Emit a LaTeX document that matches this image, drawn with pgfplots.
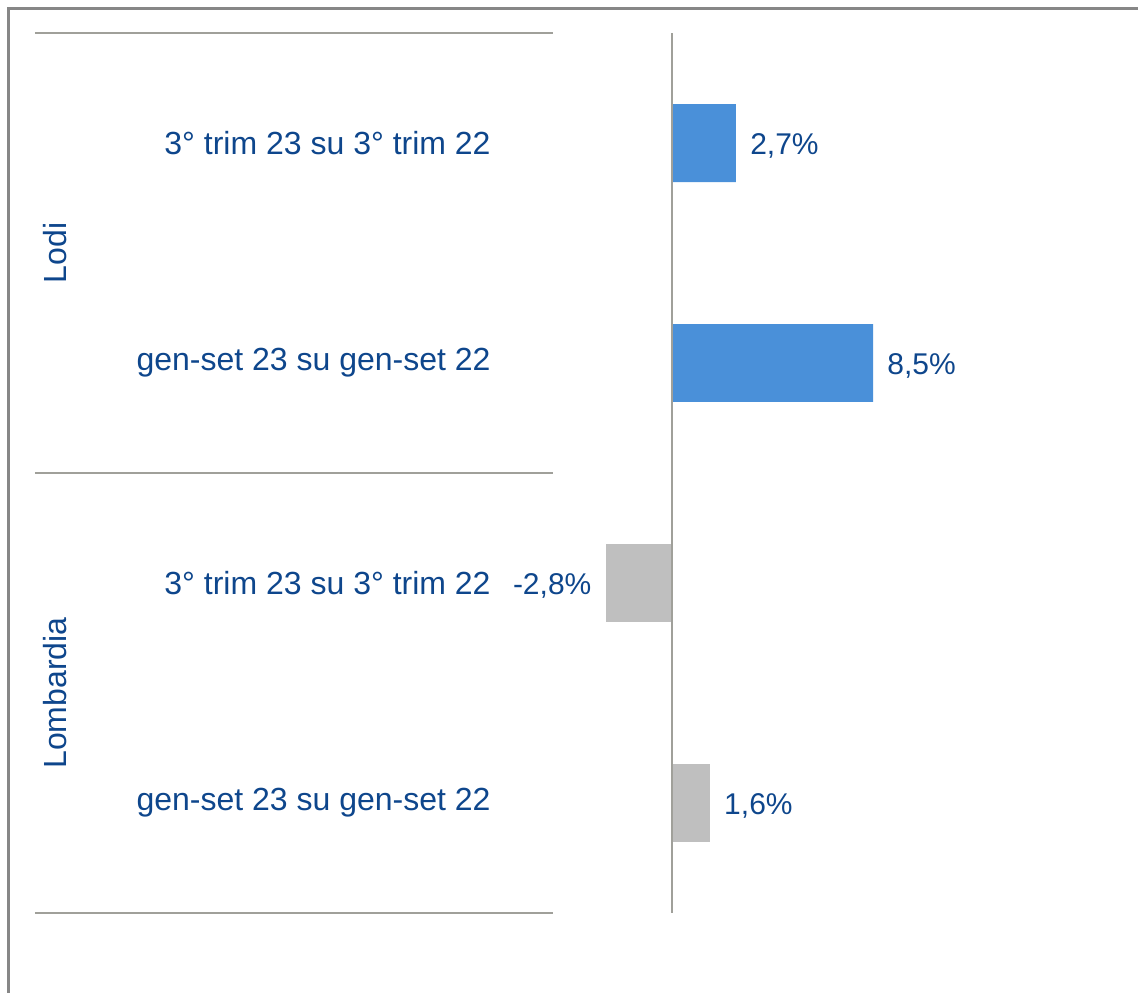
\documentclass[border=0pt]{standalone}
\usepackage{fontspec}
\setmainfont{Liberation Sans}
\usepackage{pgfplots}
\pgfplotsset{compat=1.18}
\definecolor{txt}{RGB}{14,70,140}
\definecolor{barblue}{RGB}{74,144,217}
\definecolor{bargray}{RGB}{191,191,191}
\definecolor{sep}{RGB}{160,160,154}
\definecolor{frame}{RGB}{135,135,135}
\tikzset{lbl/.style={text=txt, inner sep=7pt, yshift=-1.5pt, font=\fontsize{15}{18}\selectfont}}
\begin{document}
\begin{tikzpicture}
\begin{axis}[
  scale only axis,
  width=304.5pt, height=440pt,
  xbar, bar shift=0pt, bar width=0.3545,
  xmin=-7.653, xmax=18.097,
  ymin=-0.5, ymax=3.5, y dir=reverse,
  axis line style={draw=none},
  major tick length=0pt,
  clip=false,
  ytick={0,1,2,3},
  yticklabels={3° trim 23 su 3° trim 22, gen-set 23 su gen-set 22, 3° trim 23 su 3° trim 22, gen-set 23 su gen-set 22},
  xtick=\empty,
  font=\fontsize{16}{19}\selectfont,
  every tick label/.append style={text=txt},
  yticklabel style={anchor=east, inner sep=0pt},
  point meta=explicit symbolic,
]
% cornice esterna (solo sinistra e sopra) e bounding box
\path[use as bounding box] (axis cs:-28.414,-0.65) rectangle (axis cs:19.704,3.8636);
\draw[frame, line width=1.5pt] (axis cs:-28.034,3.8636) -- (axis cs:-28.034,-0.6136) -- (axis cs:19.704,-0.6136);

\addplot[fill=barblue, draw=none, nodes near coords,
  nodes near coords style={lbl, anchor=west}]
  coordinates {(2.7,0) [2,7\%] (8.5,1) [8,5\%]};
\addplot[fill=bargray, draw=none, nodes near coords,
  nodes near coords style={lbl, anchor=east}]
  coordinates {(-2.8,2) [-2,8\%]};
\addplot[fill=bargray, draw=none, nodes near coords,
  nodes near coords style={lbl, anchor=west}]
  coordinates {(1.6,3) [1,6\%]};

% asse verticale e separatori di gruppo
\draw[sep, line width=1pt] (axis cs:0,-0.5) -- (axis cs:0,3.5);
\draw[sep, line width=1pt] (axis cs:-26.934,-0.5) -- (axis cs:-5.032,-0.5);
\draw[sep, line width=1pt] (axis cs:-26.934,1.5) -- (axis cs:-5.032,1.5);
\draw[sep, line width=1pt] (axis cs:-26.934,3.5) -- (axis cs:-5.032,3.5);
\node[rotate=90, text=txt, font=\fontsize{16}{19}\selectfont] at (axis cs:-26.089,0.5) {Lodi};
\node[rotate=90, text=txt, font=\fontsize{16}{19}\selectfont] at (axis cs:-26.089,2.5) {Lombardia};
\end{axis}
\end{tikzpicture}
\end{document}
